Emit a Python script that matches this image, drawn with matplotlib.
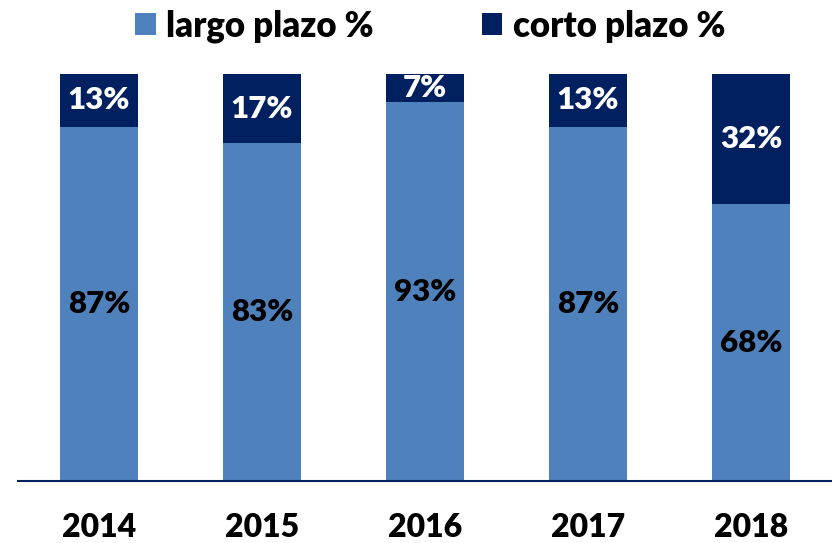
import matplotlib.pyplot as plt
import numpy as np

years = ["2014", "2015", "2016", "2017", "2018"]
largo = [87, 83, 93, 87, 68]
corto = [13, 17, 7, 13, 32]

LIGHT = "#4F81BD"
NAVY = "#002060"
FONT = "Lato"

fig = plt.figure(figsize=(8.32, 5.43), dpi=100)
ax = fig.add_axes([17.5 / 832, 62 / 543, 815 / 832, 407 / 543])

x = np.arange(len(years))
b1 = ax.bar(x, largo, width=0.48, color=LIGHT, label="largo plazo %")
b2 = ax.bar(x, corto, width=0.48, bottom=largo, color=NAVY, label="corto plazo %")

for xi, lo, co in zip(x, largo, corto):
    ax.text(xi, lo / 2, f"{lo}%", ha="center", va="center", fontsize=22.5,
            fontweight="heavy", family=FONT, color="black")
    ax.text(xi, lo + co / 2, f"{co}%", ha="center", va="center", fontsize=22.5,
            fontweight="heavy", family=FONT, color="white")

ax.set_xlim(-0.5, 4.5)
ax.set_ylim(0, 100)
ax.set_yticks([])
ax.set_xticks(x)
ax.set_xticklabels(years, fontsize=23, fontweight="heavy", family=FONT)
ax.tick_params(axis="x", length=0, pad=23)
for s in ["top", "right", "left"]:
    ax.spines[s].set_visible(False)
ax.spines["bottom"].set_color(NAVY)
ax.spines["bottom"].set_linewidth(1.5)

leg = fig.legend(handles=[b1, b2], loc="upper center", bbox_to_anchor=(0.517, 1.04),
                 ncol=2, frameon=False, handlelength=0.6, handleheight=0.6,
                 handletextpad=0.3, columnspacing=3.1,
                 prop={"family": FONT, "weight": "heavy", "size": 25})

fig.savefig("out.png", dpi=100)
